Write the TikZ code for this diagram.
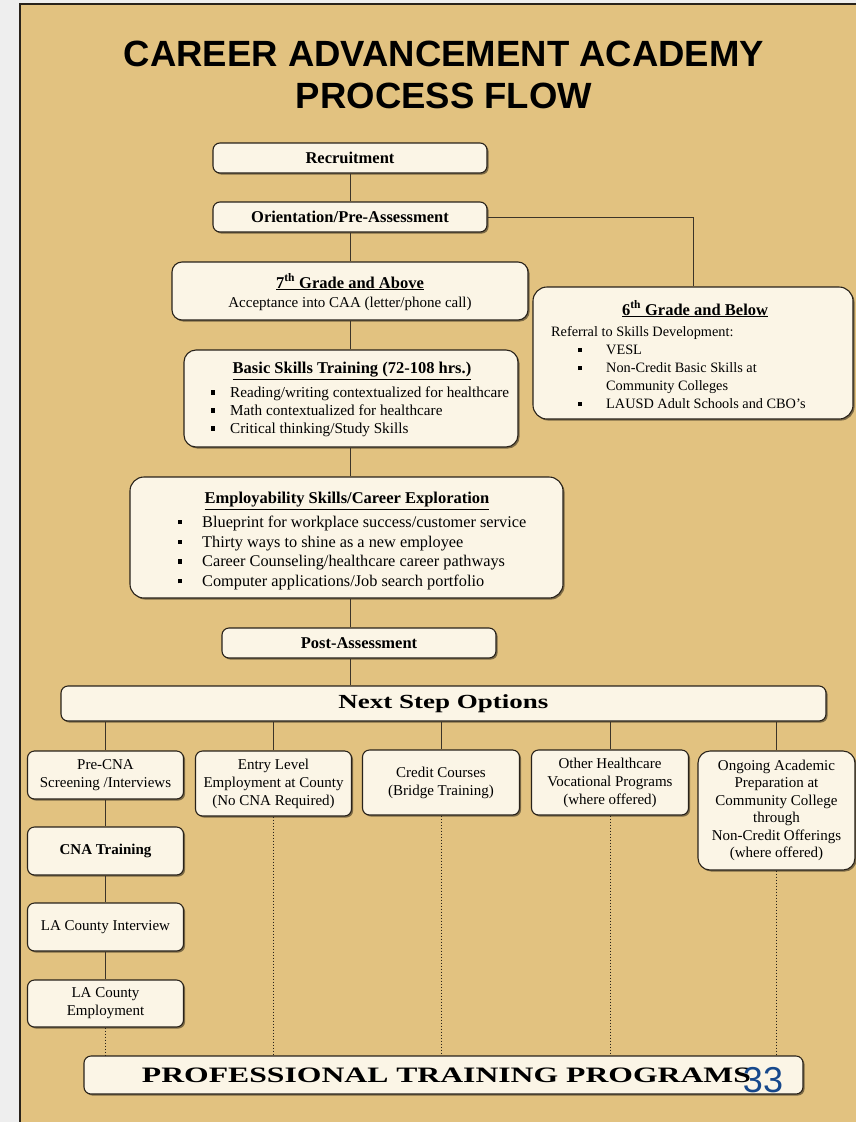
\documentclass[tikz,border=0pt]{standalone}
\usepackage{fontspec}
\setmainfont{Liberation Serif}
\newfontfamily\titlefont{Liberation Sans}
\usetikzlibrary{shadows}
\definecolor{pagebg}{RGB}{226,194,128}
\definecolor{boxfill}{RGB}{251,245,230}
\definecolor{edgecol}{RGB}{40,34,26}
\definecolor{linecol}{RGB}{60,52,40}
\definecolor{numblue}{RGB}{22,72,140}
\definecolor{marginc}{RGB}{238,238,238}
\newcommand\sqbul{\rule[0.2em]{4.2pt}{4.2pt}}
\newcommand\hdfont{\bfseries\fontsize{16.5}{19}\selectfont}
\begin{document}
\begin{tikzpicture}[x=1pt,y=-1pt,
  stagebox/.style 2 args={draw=edgecol, line width=1.1pt, fill=boxfill, rounded corners=7pt,
    minimum width=#1, minimum height=#2, inner sep=0pt, align=center,
    drop shadow={shadow xshift=1.6pt, shadow yshift=-1.6pt, fill=black, opacity=0.45}},
  txt/.style={inner sep=0pt, align=center},
  link/.style={draw=linecol, line width=0.9pt},
  dotlink/.style={draw=edgecol, line width=1pt, dotted},
  small/.style={font=\fontsize{15}{18}\selectfont}
]
\useasboundingbox (0,0) rectangle (856,1122);
\fill[marginc] (0,0) rectangle (856,1122);
\fill[pagebg] (20,4) rectangle (856,1122);
\draw[edgecol, line width=1.2pt] (20,1122) -- (20,4) -- (856,4);

% title
\node[txt, font=\titlefont\bfseries\fontsize{36.5}{42}\selectfont] (title) at (444,75)
  {CAREER ADVANCEMENT ACADEMY\\PROCESS FLOW};

% main column
\node[stagebox={274pt}{30pt}, font=\hdfont] (rec) at (350,158) {Recruitment};
\node[stagebox={274pt}{30pt}, font=\hdfont] (ori) at (350,217) {Orientation/Pre-Assessment};

\node[stagebox={356pt}{58pt}, rounded corners=10pt] (g7) at (350,291) {};
\node[txt, font=\hdfont] (g7h) at (350,282) {\underline{7\textsuperscript{th} Grade and Above}};
\node[txt, font=\fontsize{15}{18}\selectfont] (g7b) at (350,304) {Acceptance into CAA (letter/phone call)};

\node[stagebox={320pt}{132pt}, rounded corners=14pt] (g6) at (693,353) {};
\node[txt, font=\hdfont] (g6h) at (695,309) {\underline{6\textsuperscript{th} Grade and Below}};
\node[inner sep=0pt, align=left, anchor=west, font=\fontsize{14.3}{18}\selectfont] (g6l) at (551,368)
  {Referral to Skills Development:\\
   \hspace*{27pt}\makebox[28pt][l]{\sqbul}VESL\\
   \hspace*{27pt}\makebox[28pt][l]{\sqbul}Non-Credit Basic Skills at\\
   \hspace*{55pt}Community Colleges\\
   \hspace*{27pt}\makebox[28pt][l]{\sqbul}LAUSD Adult Schools and CBO’s};

\node[stagebox={334pt}{97pt}, rounded corners=12pt] (bas) at (351,398.5) {};
\node[txt, font=\hdfont] (bash) at (352,371) {\underline{Basic Skills Training (72-108 hrs.)}};
\node[inner sep=0pt, align=left, anchor=west, font=\fontsize{15.2}{18}\selectfont] (basl) at (211,412)
  {\makebox[19pt][l]{\sqbul}Reading/writing contextualized for healthcare\\
   \makebox[19pt][l]{\sqbul}Math contextualized for healthcare\\
   \makebox[19pt][l]{\sqbul}Critical thinking/Study Skills};

\node[stagebox={433pt}{121pt}, rounded corners=14pt] (emp) at (346.5,537.5) {};
\node[txt, font=\hdfont] (emph) at (347,501) {\underline{Employability Skills/Career Exploration}};
\node[inner sep=0pt, align=left, anchor=west, font=\fontsize{16.3}{19.7}\selectfont] (empl) at (178,553)
  {\makebox[24pt][l]{\sqbul}Blueprint for workplace success/customer service\\
   \makebox[24pt][l]{\sqbul}Thirty ways to shine as a new employee\\
   \makebox[24pt][l]{\sqbul}Career Counseling/healthcare career pathways\\
   \makebox[24pt][l]{\sqbul}Computer applications/Job search portfolio};

\node[stagebox={274pt}{30pt}, font=\hdfont] (post) at (359,643) {Post-Assessment};
\node[stagebox={765pt}{35pt}, font=\bfseries\fontsize{20}{24}\selectfont] (next) at (443.5,703.5)
  {\scalebox{1.35}[1]{Next Step Options}};

% options row
\node[stagebox={156pt}{48pt}, small] (pre) at (105.5,775) {Pre-CNA\\Screening /Interviews};
\node[stagebox={156pt}{65pt}, small] (entry) at (273.5,783.5) {Entry Level\\Employment at County\\(No CNA Required)};
\node[stagebox={157pt}{65pt}, small] (credit) at (441,782.5) {Credit Courses\\(Bridge Training)};
\node[stagebox={157pt}{65pt}, small] (other) at (610,782.5) {Other Healthcare\\Vocational Programs\\(where offered)};
\node[stagebox={157pt}{119pt}, rounded corners=12pt, font=\fontsize{15}{17.5}\selectfont] (ongo) at (776.5,810.5)
  {Ongoing Academic\\Preparation at\\Community College\\through\\Non-Credit Offerings\\(where offered)};

\node[stagebox={156pt}{48pt}, font=\bfseries\fontsize{15}{18}\selectfont] (cna) at (105.5,851) {CNA Training};
\node[stagebox={156pt}{48pt}, small] (lai) at (105.5,927) {LA County Interview};
\node[stagebox={156pt}{47pt}, small] (lae) at (105.5,1003.5) {LA County\\Employment};

\node[stagebox={719pt}{38pt}, font=\bfseries\fontsize{22}{26}\selectfont] (prof) at (443.5,1075)
  {\hspace*{6pt}\scalebox{1.44}[1]{PROFESSIONAL TRAINING PROGRAMS}};
\node[txt, font=\titlefont\fontsize{36}{40}\selectfont, text=numblue] (pgnum) at (763,1080) {33};

% connectors
\draw[link] (rec) -- (ori);
\draw[link] (ori) -- (g7);
\draw[link] (g7.south) -- (g7.south |- bas.north);
\draw[link] (bas.south -| g7.south) -- (emp.north -| g7.south);
\draw[link] (emp.south -| g7.south) -- (post.north -| g7.south);
\draw[link] (post.south -| g7.south) -- (next.north -| g7.south);
\draw[link] (ori.east) -| (g6.north);
\foreach \n in {pre,entry,credit,other,ongo}
  \draw[link] (next.south -| \n.north) -- (\n.north);
\draw[link] (pre) -- (cna);
\draw[link] (cna) -- (lai);
\draw[link] (lai) -- (lae);
\foreach \n in {lae,entry,credit,other,ongo}
  \draw[dotlink] (\n.south) -- (\n.south |- prof.north);
\end{tikzpicture}
\end{document}
